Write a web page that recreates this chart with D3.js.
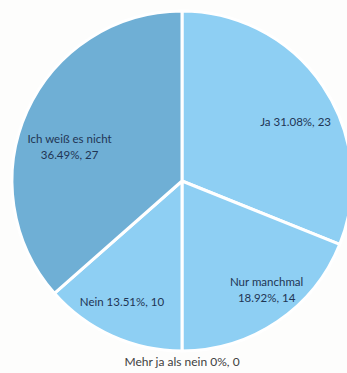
<!DOCTYPE html>
<html>
<head>
<meta charset="utf-8">
<script src="https://cdn.jsdelivr.net/npm/d3@7"></script>
<style>
  html, body { margin: 0; padding: 0; background: #fdfdfc; }
  svg { display: block; }
  text { font-family: Lato, "Open Sans", sans-serif; }
</style>
</head>
<body>
<svg id="chart" width="347" height="373"></svg>
<script>
// Survey answers, clockwise from 12 o'clock
const categories = ["Ja", "Nur manchmal", "Mehr ja als nein", "Nein", "Ich weiß es nicht"];
const counts = [23, 14, 0, 10, 27];
const percentLabels = ["31.08%", "18.92%", "0%", "13.51%", "36.49%"];

// Fill per slice and label tweaks (offsets from the arc centroid, line layout)
const fills = ["#8ecff3", "#8ecff3", "#8ecff3", "#8ecff3", "#6fafd5"];
const labelOffsets = [[15, 8], [18, 10], [0, 0], [-11, 13], [-4, 15]];
const twoLine = [false, true, false, false, true];

const width = 347, height = 373;
const cx = 182, cy = 181, radius = 170;

const svg = d3.select("#chart");
const g = svg.append("g").attr("transform", `translate(${cx},${cy})`);

const data = categories.map((c, i) => ({ name: c, value: counts[i], pct: percentLabels[i], i }));

const pie = d3.pie().sort(null).value(d => d.value);
const arcs = pie(data);

const arc = d3.arc().innerRadius(0).outerRadius(radius);
const labelArc = d3.arc().innerRadius(radius * 0.7).outerRadius(radius * 0.7);

g.selectAll("path.slice")
  .data(arcs.filter(a => a.data.value > 0))
  .join("path")
  .attr("class", "slice")
  .attr("d", arc)
  .attr("fill", d => fills[d.data.i])
  .attr("stroke", "#ffffff")
  .attr("stroke-width", 3)
  .attr("stroke-linejoin", "round");

const textColor = "#1f3554";

arcs.forEach(a => {
  const d = a.data;
  let x, y;
  if (d.value === 0) {
    // zero-size slice: label sits just below the rim
    const ang = a.startAngle;
    x = Math.sin(ang) * (radius + 14);
    y = -Math.cos(ang) * (radius + 14);
    g.append("text")
      .attr("x", x).attr("y", y + 1)
      .attr("text-anchor", "middle")
      .attr("font-size", 12)
      .attr("fill", "#404040")
      .text(`${d.name} ${d.pct}, ${d.value}`);
    return;
  }
  const c = labelArc.centroid(a);
  x = c[0] + labelOffsets[d.i][0];
  y = c[1] + labelOffsets[d.i][1];
  const t = g.append("text")
    .attr("text-anchor", "middle")
    .attr("font-size", 11.5)
    .attr("fill", textColor);
  if (twoLine[d.i]) {
    t.append("tspan").attr("x", x).attr("y", y - 4).text(d.name);
    t.append("tspan").attr("x", x).attr("y", y + 12).text(`${d.pct}, ${d.value}`);
  } else {
    t.append("tspan").attr("x", x).attr("y", y + 4).text(`${d.name} ${d.pct}, ${d.value}`);
  }
});
</script>
</body>
</html>
